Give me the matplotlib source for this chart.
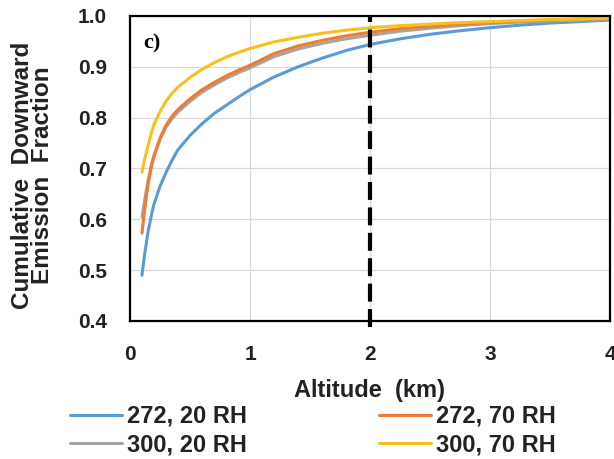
import matplotlib
matplotlib.use("Agg")
import matplotlib.pyplot as plt

altitude = [0.1, 0.12, 0.15, 0.18, 0.2, 0.25, 0.3, 0.35, 0.4, 0.5, 0.6, 0.7, 0.8, 0.9, 1.0,
            1.2, 1.4, 1.6, 1.8, 2.0, 2.25, 2.5, 2.75, 3.0, 3.25, 3.5, 3.75, 4.0]
t272_rh20 = [0.490, 0.528, 0.575, 0.610, 0.630, 0.665, 0.692, 0.716, 0.737, 0.765, 0.788, 0.808, 0.824, 0.840, 0.855,
             0.880, 0.900, 0.917, 0.932, 0.944, 0.955, 0.964, 0.971, 0.977, 0.982, 0.986, 0.989, 0.992]
t300_rh20 = [0.605, 0.635, 0.676, 0.708, 0.725, 0.757, 0.781, 0.798, 0.811, 0.832, 0.850, 0.864, 0.877, 0.888, 0.898,
             0.920, 0.935, 0.946, 0.955, 0.962, 0.970, 0.976, 0.981, 0.985, 0.988, 0.990, 0.992, 0.994]
t272_rh70 = [0.573, 0.615, 0.668, 0.705, 0.724, 0.760, 0.785, 0.803, 0.816, 0.837, 0.855, 0.869, 0.882, 0.893, 0.903,
             0.926, 0.941, 0.952, 0.961, 0.968, 0.975, 0.980, 0.984, 0.987, 0.990, 0.992, 0.994, 0.995]
t300_rh70 = [0.693, 0.716, 0.745, 0.772, 0.786, 0.812, 0.832, 0.848, 0.860, 0.879, 0.895, 0.908, 0.919, 0.928, 0.936,
             0.949, 0.958, 0.966, 0.972, 0.977, 0.981, 0.984, 0.987, 0.989, 0.991, 0.993, 0.994, 0.996]

labels = ["272, 20 RH", "300, 20 RH", "272, 70 RH", "300, 70 RH"]
series = [t272_rh20, t300_rh20, t272_rh70, t300_rh70]
colors = ["#5B9BD5", "#A5A5A5", "#ED7D31", "#F5C21B"]
xticks = [0, 1, 2, 3, 4]
yticks = [0.4, 0.5, 0.6, 0.7, 0.8, 0.9, 1.0]
ref_altitude = 2

plt.rcParams['font.family'] = ['Liberation Sans', 'DejaVu Sans']
plt.rcParams['font.weight'] = 'bold'
TXT = '#222222'

W, H = 614, 459
fig = plt.figure(figsize=(W / 100, H / 100), dpi=100)
ax = fig.add_axes([130 / W, 1 - 321 / H, 480 / W, 305 / H])

ax.set_xlim(0, 4)
ax.set_ylim(0.4, 1.0)
ax.set_xticks(xticks)
ax.set_yticks(yticks)
ax.set_xticklabels([str(v) for v in xticks])
ax.set_yticklabels([f"{v:.1f}" for v in yticks])
ax.grid(True, color="#D9D9D9", linewidth=0.9)
ax.set_axisbelow(True)
ax.tick_params(axis='x', length=0, labelsize=15, pad=17)
ax.tick_params(axis='y', length=0, labelsize=15, pad=16.5)
for lab in ax.get_xticklabels() + ax.get_yticklabels():
    lab.set_fontweight('bold')
    lab.set_color(TXT)
for sp in ax.spines.values():
    sp.set_linewidth(1.6)
    sp.set_color('black')

handles = []
for lab, ys, c in zip(labels, series, colors):
    h, = ax.plot(altitude, ys, color=c, lw=2.2, label=lab, solid_capstyle='round')
    handles.append(h)

ax.plot([ref_altitude, ref_altitude], [0.388, 1.0], color='black', lw=3.0,
        dashes=(4.3, 1.8), clip_on=False, zorder=5)

ax.text(13 / 480, (321 - 33) / 305, "c)", transform=ax.transAxes, fontsize=16,
        fontweight='bold', family=['Liberation Serif'], va='top', ha='left')

ax.set_xlabel("Altitude  (km)", fontsize=17, fontweight='bold', color=TXT)
ax.xaxis.set_label_coords(0.5, (321 - 379) / 305)
ax.set_ylabel("Cumulative  Downward\nEmission  Fraction", fontsize=17.5, fontweight='bold',
              color=TXT, linespacing=0.86)
ax.yaxis.set_label_coords((54 - 130) / 480, 0.479)

leg = fig.legend(handles=handles, labels=labels, ncol=2, loc='upper left',
                 bbox_to_anchor=(70 / W, 1 - 405 / H), frameon=False,
                 handlelength=2.2, handletextpad=0.2, columnspacing=5.6,
                 labelspacing=0.22, borderpad=0, borderaxespad=0,
                 prop={'weight': 'bold', 'size': 17})
for t in leg.get_texts():
    t.set_color(TXT)

fig.savefig("out.png", dpi=100)
